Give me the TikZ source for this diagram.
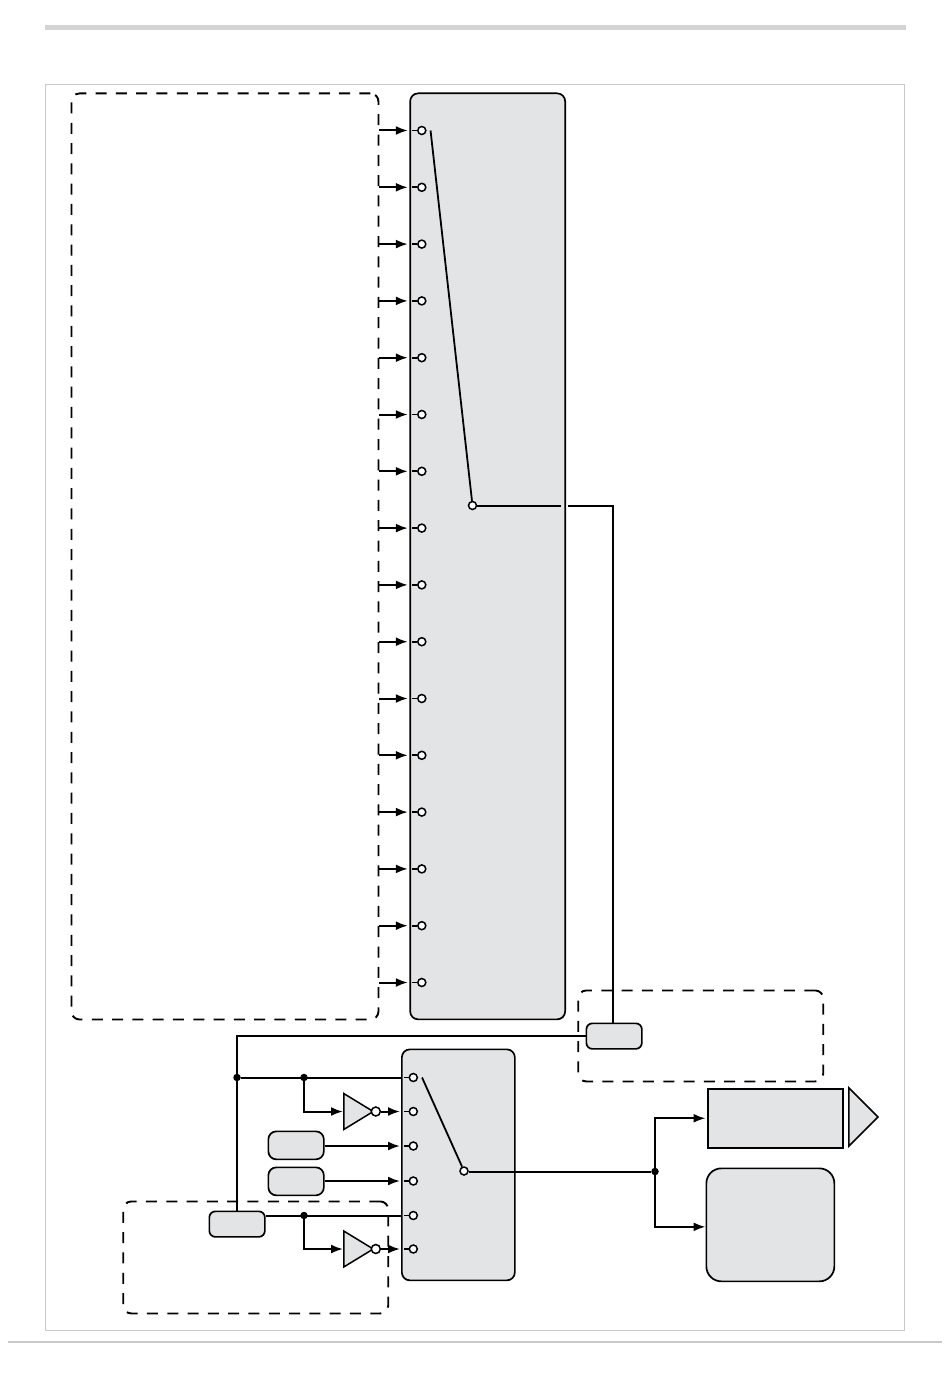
\documentclass[tikz,border=0pt]{standalone}
\usepackage{tikz}
\usetikzlibrary{arrows.meta}
\usetikzlibrary{positioning}
\usetikzlibrary{shapes.geometric}
\definecolor{boxgray}{HTML}{E3E4E6}
\definecolor{pagegray}{HTML}{C9C9C9}
\begin{document}
\begin{tikzpicture}[x=1pt,y=-1pt]
	\tikzset{
	  wire/.style={line width=2pt},
	  feed/.style={wire,-{Latex[length=12pt,width=9pt]}},
	  stub/.style={line width=1.8pt},
	  block/.style={draw,line width=1.7pt,fill=boxgray,rounded corners=#1,inner sep=0pt,anchor=north west},
	  block/.default=8pt,
	  pill/.style={block=8pt,minimum width=55.5pt,minimum height=27pt},
	  dashbox/.style={draw,line width=1.9pt,dash pattern=on 11pt off 9.3pt,rounded corners=8pt,inner sep=0pt,anchor=north west},
	  contact/.style={circle,draw,fill=white,line width=1.5pt,inner sep=0pt,minimum size=8pt},
	  bubble/.style={contact,minimum size=9pt},
	  joint/.style={circle,fill=black,inner sep=0pt,minimum size=7.5pt},
	  inverter/.style={isosceles triangle,isosceles triangle stretches,draw,fill=boxgray,line width=1.5pt,
	    inner sep=0pt,minimum width=36pt,minimum height=29.5pt,anchor=lower side},
	}
	\useasboundingbox (0,0) rectangle (950,1378);
	%PAGE
	\fill[pagegray!80] (45,25) rectangle (906,30);
	\draw[pagegray,line width=1pt] (45.5,84.5) rectangle (904.5,1330);
	\draw[pagegray,line width=2pt] (8,1342) -- (942,1342);
	%DASHED GROUPS
	\node[dashbox,minimum width=307pt,minimum height=926pt] (srcgroup) at (70.5,92.5) {};
	\node[dashbox,minimum width=245pt,minimum height=91pt] (clkgroup) at (577.3,989.5) {};
	\node[dashbox,minimum width=265pt,minimum height=112pt] (selgroup) at (122.3,1200.5) {};
	%MUX BLOCKS
	\node[block,minimum width=155pt,minimum height=926pt] (muxA) at (409.3,92.5) {};
	\node[block,minimum width=113pt,minimum height=231pt] (muxB) at (401,1048.5) {};
	%UPPER MUX INPUTS
	\foreach \i in {0,...,15}{
	  \pgfmathsetmacro{\rowy}{130.5+56.8*\i}
	  \node[contact] (inA\i) at (421.8,\rowy) {};
	  \draw[feed] (srcgroup.east |- inA\i) -- ([xshift=-1.5pt]muxA.west |- inA\i);
	  \draw[stub] (inA\i.west) -- ++(-5,0);
	}
	\node[contact] (outA) at (472.5,505.5) {};
	\draw[stub] ([xshift=4pt]inA0.east) -- (outA);
	\node[block=6pt,minimum width=55.5pt,minimum height=25.5pt] (pillA) at (585.5,1022.5) {};
	\node[block=6pt,minimum width=55.5pt,minimum height=25.5pt] (pillB) at (208.5,1210.5) {};
	\draw[wire] (outA.east) -- ++(84,0);
	\draw[wire] ([xshift=2pt]muxA.east |- outA) -| ([xshift=-1pt]pillA.north);
	\draw[wire] (pillA.west) -| (pillB.north);
	%LOWER MUX INPUTS
	\foreach \i/\rowy in {0/1077.5,1/1111.5,2/1146,3/1181,4/1215.5,5/1249}{
	  \node[contact] (inB\i) at (413.3,\rowy) {};
	  \draw[stub] (inB\i.west) -- ++(-5,0);
	}
	\node[joint] (jointA) at (237,1077.5) {};
	\node[joint] (jointB) at (304,1077.5) {};
	\node[joint] (jointC) at (304,1215.5) {};
	\draw[wire] (jointA) -- (muxB.west |- inB0);
	\draw[wire] (pillB.east |- inB4) -- (muxB.west |- inB4);
	%INVERTERS
	\node[inverter] (notA) at (343,1111.5) {};
	\node[inverter] (notB) at (343,1249) {};
	\node[bubble] (bubA) at (375.8,1111.5) {};
	\node[bubble] (bubB) at (375.8,1249) {};
	\draw[feed] (jointB) |- (notA.lower side);
	\draw[feed] (jointC) |- (notB.lower side);
	\draw[feed] (bubA.east) -- ([xshift=-1pt]muxB.west |- inB1);
	\draw[feed] (bubB.east) -- ([xshift=-1pt]muxB.west |- inB5);
	%FIXED INPUTS
	\node[pill,minimum height=28pt] (fixA) at (267.5,1130.5) {};
	\node[pill,minimum height=28pt] (fixB) at (267.5,1166.5) {};
	\draw[feed] (fixA.east |- inB2) -- ([xshift=-1pt]muxB.west |- inB2);
	\draw[feed] (fixB.east |- inB3) -- ([xshift=-1pt]muxB.west |- inB3);
	%LOWER MUX OUTPUT
	\node[contact] (outB) at (464,1171) {};
	\draw[stub] ([xshift=4pt]inB0.east) -- (outB);
	\node[joint] (jointD) at (655,1171.5) {};
	\draw[wire] (outB.east |- jointD) -- (jointD);
	%SINKS
	\node[draw,line width=2pt,fill=boxgray,inner sep=0pt,anchor=north west,minimum width=135.5pt,minimum height=59.5pt] (sinkA) at (706.5,1087.5) {};
	\node[draw,line width=1.5pt,fill=boxgray,inner sep=0pt,isosceles triangle,isosceles triangle stretches,
	  minimum width=58pt,minimum height=29pt,anchor=lower side] (pad) at (848.2,1117) {};
	\node[block=15pt,minimum width=128pt,minimum height=113pt] (sinkB) at (705.5,1167.5) {};
	\draw[feed] (jointD) |- ([xshift=-1pt]sinkA.west);
	\draw[feed] (jointD) |- ([yshift=-2pt]sinkB.west);
\end{tikzpicture}
\end{document}
